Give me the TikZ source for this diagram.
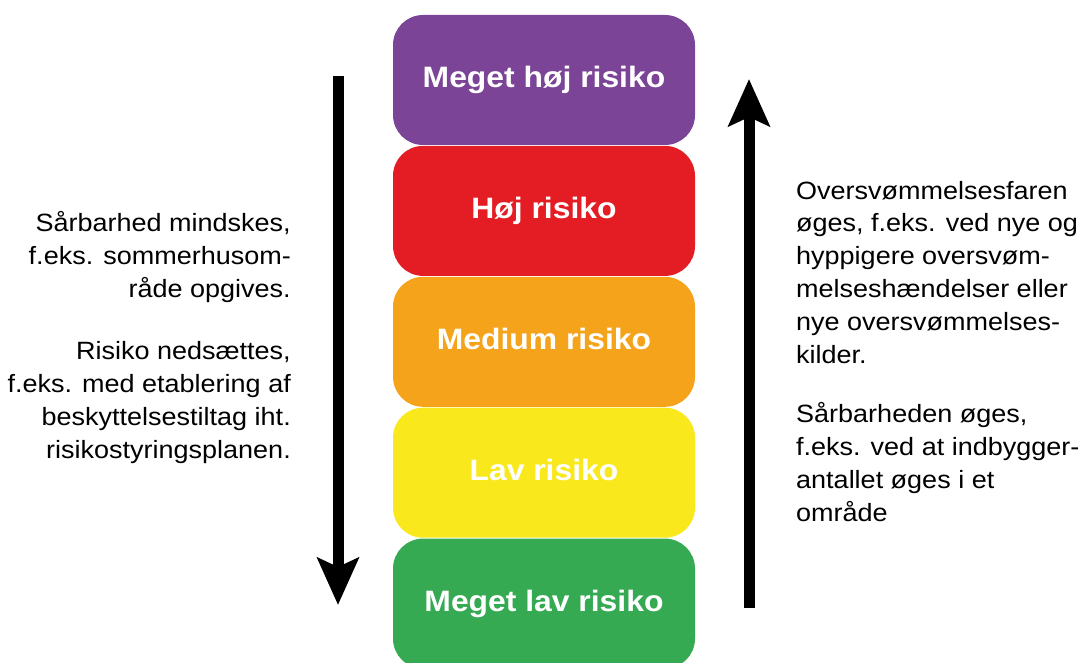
\documentclass[tikz,border=0pt]{standalone}
\usepackage{fontspec}
\setmainfont{Liberation Sans}[FakeStretch=1.08]
\usepackage{xcolor}
\usepackage{tikz}
\usetikzlibrary{positioning,arrows.meta}
\definecolor{vhighc}{HTML}{7B4496}
\definecolor{highc}{HTML}{E31D23}
\definecolor{medc}{HTML}{F5A31A}
\definecolor{lowc}{HTML}{F8E81C}
\definecolor{vlowc}{HTML}{35AA53}
\tikzset{
  level/.style={minimum width=302pt, minimum height=130pt, rounded corners=30pt, inner sep=0pt,
    text=white, font=\fontsize{29.5}{34}\selectfont\bfseries, text height=21.5pt, text depth=6.2pt},
  note/.style={inner sep=0pt, text=black, font=\fontsize{25}{32.8}\selectfont},
  bigarrow/.style={draw=black, line width=11pt, -{Stealth[length=47pt, width=41pt, inset=9pt]}},
}
\begin{document}
\begin{tikzpicture}[x=1pt,y=-1pt]
  \useasboundingbox (0,0) rectangle (1081,663);
  % risk ladder
  \node[level, fill=vhighc] (vhigh) at (544,80) {Meget høj risiko};
  \node[level, fill=highc, below=0.5pt of vhigh] (high) {Høj risiko};
  \node[level, fill=medc, below=0.5pt of high] (medium) {Medium risiko};
  \node[level, fill=lowc, below=0.5pt of medium] (low) {Lav risiko};
  \node[level, fill=vlowc, below=0.5pt of low] (vlow) {Meget lav risiko};
  % arrows
  \coordinate (downtop) at (338,76);
  \coordinate (downtip) at (338,605);
  \draw[bigarrow] (downtop) -- (downtip);
  \coordinate (upfoot) at (749,608);
  \coordinate (uptip) at (749,79);
  \draw[bigarrow] (upfoot) -- (uptip);
  % left notes (base = last line)
  \node[note, align=right, anchor=base east] (lessvuln) at (291,297)
    {Sårbarhed mindskes,\\f.eks. sommerhusom-\\råde opgives.};
  \node[note, align=right, anchor=base east] (lessrisk) at (291,458)
    {Risiko nedsættes,\\f.eks. med etablering af\\beskyttelsestiltag iht.\\risikostyringsplanen.};
  % right notes
  \node[note, align=left, anchor=base west] (morehazard) at (796,363)
    {Oversvømmelsesfaren\\øges, f.eks. ved nye og\\hyppigere oversvøm-\\melseshændelser eller\\nye oversvømmelses-\\kilder.};
  \node[note, align=left, anchor=base west] (morevuln) at (796,521)
    {Sårbarheden øges,\\f.eks. ved at indbygger-\\antallet øges i et\\område};
\end{tikzpicture}
\end{document}
